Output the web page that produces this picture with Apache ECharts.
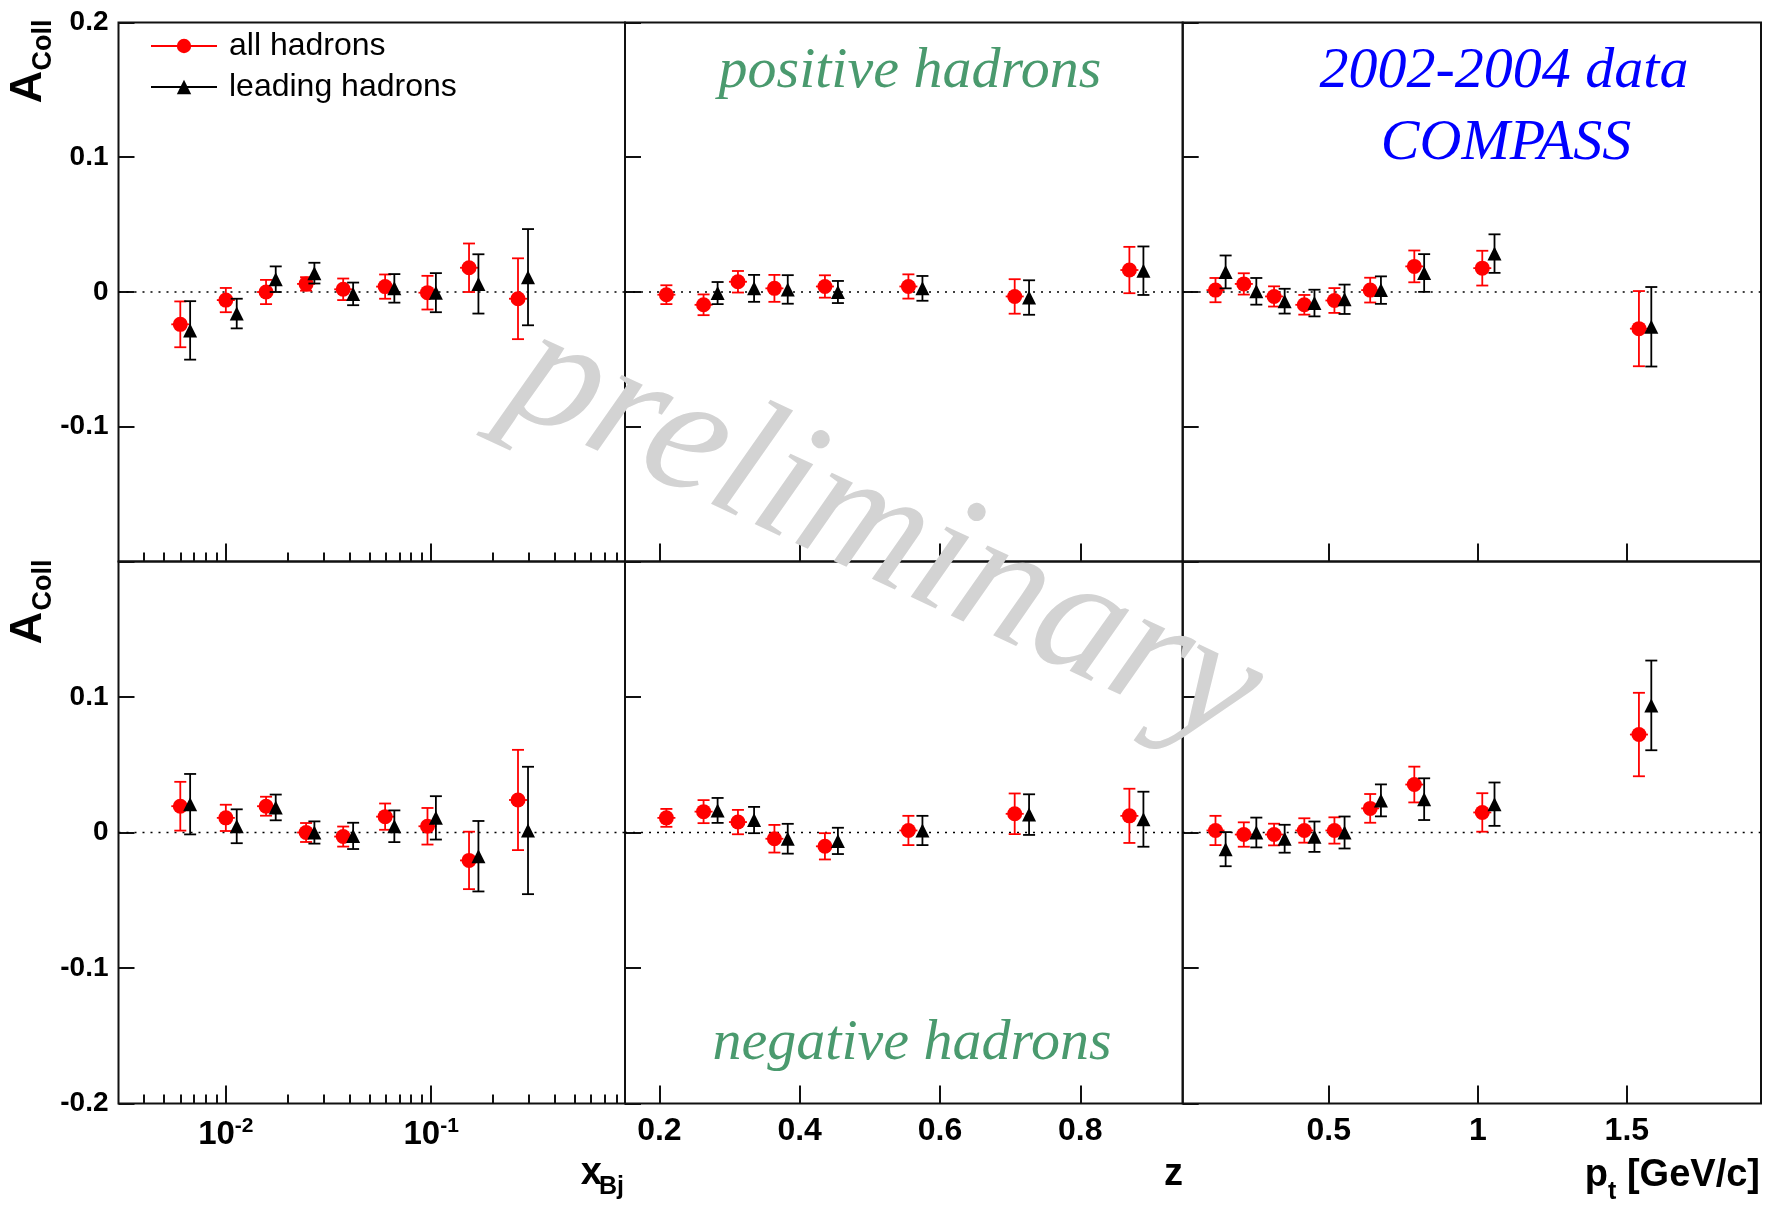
<!DOCTYPE html>
<html>
<head>
<meta charset="utf-8">
<script src="https://cdn.jsdelivr.net/npm/echarts@6/dist/echarts.min.js"></script>
<style>
  html, body { margin: 0; padding: 0; background: #ffffff; }
  #chart { width: 1771px; height: 1206px; }
</style>
</head>
<body>
<div id="chart"></div>
<script>
// ---- bin positions -------------------------------------------------------
const xBjAll  = [0.0060, 0.0100, 0.0157, 0.0246, 0.0373, 0.0597, 0.0960, 0.153, 0.265];
const xBjLead = [0.0067, 0.0113, 0.0175, 0.0270, 0.0417, 0.0662, 0.1055, 0.170, 0.2965];
const zAll    = [0.210, 0.263, 0.312, 0.364, 0.436, 0.555, 0.7065, 0.870];
const zLead   = [0.283, 0.335, 0.383, 0.4545, 0.575, 0.727, 0.890];
const ptAll   = [0.120, 0.215, 0.3165, 0.418, 0.519, 0.639, 0.787, 1.015, 1.5405];
const ptLead  = [0.154, 0.257, 0.352, 0.452, 0.553, 0.675, 0.820, 1.056, 1.582];

// ---- Collins asymmetry, positive hadrons ---------------------------------
const posXbjAll     = [-0.024, -0.006, 0.000, 0.006, 0.002, 0.004, -0.0005, 0.018, -0.005];
const posXbjAllErr  = [0.017, 0.009, 0.009, 0.005, 0.008, 0.009, 0.0125, 0.018, 0.030];
const posXbjLead    = [-0.0285, -0.016, 0.0095, 0.014, -0.0014, 0.0027, -0.0005, 0.006, 0.011];
const posXbjLeadErr = [0.0217, 0.011, 0.0095, 0.0077, 0.0084, 0.0106, 0.0145, 0.022, 0.0357];

const posZAll     = [-0.002, -0.0095, 0.0076, 0.0027, 0.0041, 0.0041, -0.0033, 0.0163];
const posZAllErr  = [0.007, 0.0077, 0.008, 0.010, 0.0083, 0.009, 0.0128, 0.0172];
const posZLead    = [-0.0008, 0.0027, 0.0019, 0.000, 0.0027, -0.0041, 0.0158];
const posZLeadErr = [0.0082, 0.010, 0.0106, 0.0082, 0.0092, 0.0128, 0.018];

const posPtAll     = [0.0014, 0.006, -0.0033, -0.0095, -0.0063, 0.0014, 0.019, 0.0177, -0.0272];
const posPtAllErr  = [0.009, 0.0079, 0.0075, 0.0073, 0.0092, 0.0092, 0.0118, 0.0129, 0.0279];
const posPtLead    = [0.0149, 0.0005, -0.0068, -0.0082, -0.0054, 0.0014, 0.0141, 0.0285, -0.0258];
const posPtLeadErr = [0.0122, 0.0099, 0.0092, 0.0099, 0.0109, 0.0102, 0.014, 0.0143, 0.0295];

// ---- Collins asymmetry, negative hadrons ---------------------------------
const negXbjAll     = [0.0194, 0.0108, 0.0194, 0.000, -0.003, 0.0117, 0.0046, -0.0206, 0.024];
const negXbjAllErr  = [0.018, 0.0097, 0.007, 0.007, 0.0074, 0.0097, 0.0135, 0.0212, 0.037];
const negXbjLead    = [0.0209, 0.0046, 0.0185, 0.000, -0.0025, 0.0046, 0.0108, -0.0175, 0.0015];
const negXbjLeadErr = [0.0223, 0.0125, 0.0095, 0.0082, 0.0097, 0.0117, 0.016, 0.026, 0.047];

const negZAll     = [0.0108, 0.0154, 0.0077, -0.0046, -0.0102, 0.0015, 0.0138, 0.0123];
const negZAllErr  = [0.0066, 0.0085, 0.009, 0.0102, 0.0097, 0.0108, 0.015, 0.020];
const negZLead    = [0.0163, 0.0092, -0.0046, -0.0062, 0.0015, 0.0132, 0.0098];
const negZLeadErr = [0.0092, 0.0097, 0.011, 0.0097, 0.0108, 0.015, 0.0203];

const negPtAll     = [0.0015, -0.0015, -0.0015, 0.0015, 0.0015, 0.0178, 0.0354, 0.0148, 0.0723];
const negPtAllErr  = [0.0108, 0.009, 0.008, 0.009, 0.0097, 0.0106, 0.0132, 0.0142, 0.0308];
const negPtLead    = [-0.0123, 0.000, -0.0046, -0.0031, 0.000, 0.0237, 0.0246, 0.0209, 0.0938];
const negPtLeadErr = [0.0126, 0.011, 0.0103, 0.0112, 0.0118, 0.0118, 0.0154, 0.016, 0.0331];

// ---- axis ticks ------------------------------------------------------------
const xBjMajorTicks = [0.01, 0.1];
const xBjMinorTicks = [0.004, 0.005, 0.006, 0.007, 0.008, 0.009,
                       0.02, 0.03, 0.04, 0.05, 0.06, 0.07, 0.08, 0.09,
                       0.2, 0.3, 0.4, 0.5, 0.6, 0.7, 0.8];
const zTicks  = [0.2, 0.4, 0.6, 0.8];
const ptTicks = [0.5, 1, 1.5];
const yRange  = [-0.2, 0.2];
const yStep   = 0.1;
const xRanges = [[0.003, 0.88], [0.151, 0.946], [0.01, 1.95]];

const SANS  = 'Liberation Sans, Arial, Helvetica, sans-serif';
const SERIF = 'Liberation Serif, Times New Roman, serif';
const RED = '#ff0000';
const BLACK = '#000000';

// panel frames: three columns, two rows
const colLeft  = [118.5, 625, 1182.7];
const colWidth = [506.5, 557.7, 578.3];
const rowTop   = [22.5, 561.5];
const rowH     = [539, 542];

const panels = [
  { row: 0, col: 0, xa: xBjAll, xl: xBjLead, a: posXbjAll, ae: posXbjAllErr, l: posXbjLead, le: posXbjLeadErr },
  { row: 0, col: 1, xa: zAll,   xl: zLead,   a: posZAll,   ae: posZAllErr,   l: posZLead,   le: posZLeadErr },
  { row: 0, col: 2, xa: ptAll,  xl: ptLead,  a: posPtAll,  ae: posPtAllErr,  l: posPtLead,  le: posPtLeadErr },
  { row: 1, col: 0, xa: xBjAll, xl: xBjLead, a: negXbjAll, ae: negXbjAllErr, l: negXbjLead, le: negXbjLeadErr },
  { row: 1, col: 1, xa: zAll,   xl: zLead,   a: negZAll,   ae: negZAllErr,   l: negZLead,   le: negZLeadErr },
  { row: 1, col: 2, xa: ptAll,  xl: ptLead,  a: negPtAll,  ae: negPtAllErr,  l: negPtLead,  le: negPtLeadErr }
];

const grids = panels.map(p => ({
  left: colLeft[p.col], top: rowTop[p.row],
  width: colWidth[p.col], height: rowH[p.row],
  show: true, borderColor: '#111', borderWidth: 2, backgroundColor: 'transparent'
}));

const tickStyle = { color: '#111', width: 2 };
const hiddenLine = { show: false, onZero: false };

function fmtY(v) {
  if (Math.abs(v) < 1e-9) return '0';
  return String(+v.toFixed(1));
}

function xAxisFor(p, gi) {
  const ax = {
    gridIndex: gi, position: 'bottom',
    min: xRanges[p.col][0], max: xRanges[p.col][1],
    axisLine: hiddenLine, splitLine: { show: false },
    axisTick: { show: true, inside: true, length: 18, lineStyle: tickStyle },
    axisLabel: {
      show: p.row === 1, margin: 12, color: '#000',
      fontFamily: SANS, fontWeight: 'bold', fontSize: 32
    }
  };
  if (p.col === 0) {
    ax.type = 'log';
    ax.logBase = 10;
    ax.axisTick.customValues = xBjMajorTicks;
    ax.axisLabel.customValues = xBjMajorTicks;
    ax.axisLabel.formatter = v => '{b|10}{s|' + Math.round(Math.log10(v)) + '}';
    ax.axisLabel.rich = {
      b: { fontFamily: SANS, fontWeight: 'bold', fontSize: 33, lineHeight: 36, verticalAlign: 'bottom', color: '#000' },
      s: { fontFamily: SANS, fontWeight: 'bold', fontSize: 21, lineHeight: 21, verticalAlign: 'top', color: '#000', padding: [0, 0, 6, 0] }
    };
  } else {
    ax.type = 'value';
    const t = p.col === 1 ? zTicks : ptTicks;
    ax.axisTick.customValues = t;
    ax.axisLabel.customValues = t;
    ax.axisLabel.formatter = v => String(v);
  }
  return ax;
}

const xAxes = panels.map((p, gi) => xAxisFor(p, gi));
// short minor ticks on the logarithmic x_Bj axes
[0, 3].forEach(gi => {
  xAxes.push({
    gridIndex: gi, type: 'log', logBase: 10, position: 'bottom',
    min: xRanges[0][0], max: xRanges[0][1],
    axisLine: hiddenLine, splitLine: { show: false },
    axisTick: { show: true, inside: true, length: 9, lineStyle: tickStyle, customValues: xBjMinorTicks },
    axisLabel: { show: false }
  });
});

const yAxes = panels.map((p, gi) => ({
  gridIndex: gi, type: 'value', position: 'left',
  min: yRange[0], max: yRange[1], interval: yStep,
  axisLine: hiddenLine, splitLine: { show: false },
  axisTick: { show: true, inside: true, length: 16, lineStyle: tickStyle },
  axisLabel: {
    show: p.col === 0, margin: 10, color: '#000',
    fontFamily: SANS, fontWeight: 'bold', fontSize: 28,
    formatter: v => {
      if (p.row === 0 && v < -0.15) return '';
      if (p.row === 1 && v > 0.15) return '';
      return fmtY(v);
    }
  }
}));

// vertical error bars with end caps; the red set also carries a short horizontal bar
function errorBars(color, horiz) {
  return function (params, api) {
    const x = api.value(0);
    const lo = api.coord([x, api.value(1)]);
    const hi = api.coord([x, api.value(2)]);
    const mid = api.coord([x, api.value(3)]);
    const cap = 6;
    const style = { stroke: color, lineWidth: 1.8, fill: null };
    const children = [
      { type: 'line', shape: { x1: lo[0], y1: lo[1], x2: hi[0], y2: hi[1] }, style },
      { type: 'line', shape: { x1: lo[0] - cap, y1: lo[1], x2: lo[0] + cap, y2: lo[1] }, style },
      { type: 'line', shape: { x1: hi[0] - cap, y1: hi[1], x2: hi[0] + cap, y2: hi[1] }, style }
    ];
    if (horiz) {
      children.push({ type: 'line', shape: { x1: mid[0] - 9, y1: mid[1], x2: mid[0] + 9, y2: mid[1] }, style });
    }
    return { type: 'group', children };
  };
}

const series = [];
panels.forEach((p, gi) => {
  const xr = xRanges[p.col];
  // dotted zero reference
  series.push({
    type: 'line', xAxisIndex: gi, yAxisIndex: gi, z: 1, silent: true,
    symbol: 'none', data: [[xr[0], 0], [xr[1], 0]],
    lineStyle: { color: '#000', width: 1.6, type: [2, 6] }
  });
  series.push({
    type: 'custom', xAxisIndex: gi, yAxisIndex: gi, z: 3, silent: true,
    renderItem: errorBars(RED, true), encode: { x: 0, y: 3 },
    data: p.xa.map((x, i) => [x, p.a[i] - p.ae[i], p.a[i] + p.ae[i], p.a[i]])
  });
  series.push({
    name: 'all hadrons', type: 'line', xAxisIndex: gi, yAxisIndex: gi, z: 4,
    symbol: 'circle', symbolSize: 15, showSymbol: true,
    itemStyle: { color: RED }, lineStyle: { color: RED, width: 0, opacity: 0 },
    data: p.xa.map((x, i) => [x, p.a[i]])
  });
  series.push({
    type: 'custom', xAxisIndex: gi, yAxisIndex: gi, z: 5, silent: true,
    renderItem: errorBars(BLACK, false), encode: { x: 0, y: 3 },
    data: p.xl.map((x, i) => [x, p.l[i] - p.le[i], p.l[i] + p.le[i], p.l[i]])
  });
  series.push({
    name: 'leading hadrons', type: 'line', xAxisIndex: gi, yAxisIndex: gi, z: 6,
    symbol: 'triangle', symbolSize: 14, showSymbol: true,
    itemStyle: { color: BLACK }, lineStyle: { color: BLACK, width: 0, opacity: 0 },
    data: p.xl.map((x, i) => [x, p.l[i]])
  });
});

function txt(x, y, text, font, fill, align, extra) {
  return Object.assign({
    type: 'text', x, y, z: 50,
    style: { text, font, fill, textAlign: align, align, textVerticalAlign: 'middle', verticalAlign: 'middle' }
  }, extra || {});
}

const titleFont = 'bold 38px ' + SANS;
const subFont = 'bold 25px ' + SANS;
const labelFont = 'italic 58px ' + SERIF;

const graphics = [
  // y-axis titles
  txt(29, 87, 'A', 'bold 45px ' + SANS, '#000', 'center', { rotation: Math.PI / 2 }),
  txt(44, 45, 'Coll', 'bold 27px ' + SANS, '#000', 'center', { rotation: Math.PI / 2 }),
  txt(29, 628, 'A', 'bold 45px ' + SANS, '#000', 'center', { rotation: Math.PI / 2 }),
  txt(44, 585, 'Coll', 'bold 27px ' + SANS, '#000', 'center', { rotation: Math.PI / 2 }),
  // x-axis titles
  txt(602, 1174, 'x', titleFont, '#000', 'right'),
  txt(599, 1187, 'Bj', subFont, '#000', 'left'),
  txt(1183, 1175, 'z', titleFont, '#000', 'right'),
  txt(1760, 1176, '[GeV/c]', titleFont, '#000', 'right'),
  txt(1608, 1176, 'p', titleFont, '#000', 'right'),
  txt(1608, 1192, 't', subFont, '#000', 'left'),
  // panel annotations
  txt(910, 72, 'positive hadrons', labelFont, '#4a9a6e', 'center'),
  txt(912, 1044, 'negative hadrons', labelFont, '#4a9a6e', 'center'),
  txt(1504, 72, '2002-2004 data', labelFont, '#0000ff', 'center'),
  txt(1506, 144, 'COMPASS', labelFont, '#0000ff', 'center'),
  // watermark
  txt(885, 535, 'preliminary', 'italic 172px ' + SERIF, '#d3d3d3', 'center', { rotation: -25 * Math.PI / 180, z: 100 })
];

const chart = echarts.init(document.getElementById('chart'), null, { renderer: 'canvas' });
chart.setOption({
  animation: false,
  backgroundColor: '#ffffff',
  grid: grids,
  xAxis: xAxes,
  yAxis: yAxes,
  legend: {
    data: ['all hadrons', 'leading hadrons'],
    orient: 'vertical', left: 145, top: 25,
    itemWidth: 66, itemHeight: 18, itemGap: 9,
    selectedMode: false,
    lineStyle: { width: 2, opacity: 1 },
    textStyle: { fontFamily: SANS, fontSize: 32, lineHeight: 32, color: '#000', padding: [0, 0, 0, 7] }
  },
  series,
  graphic: graphics
});
</script>
</body>
</html>
